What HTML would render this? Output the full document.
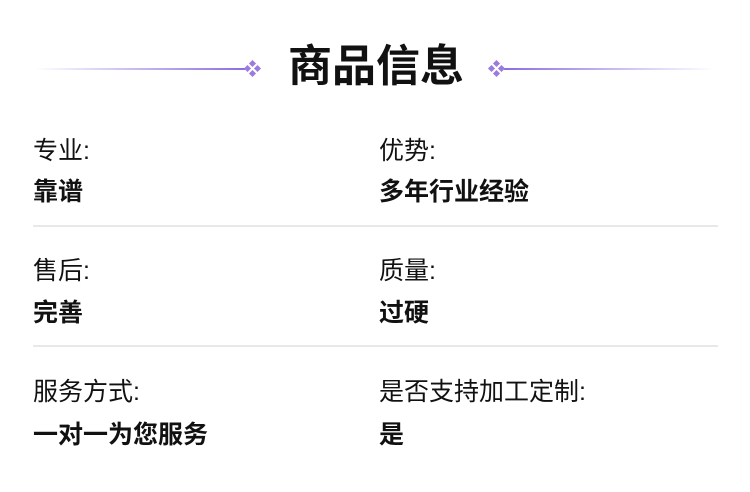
<!DOCTYPE html>
<html><head><meta charset="utf-8"><style>
html,body{margin:0;padding:0;background:#fff;width:750px;height:492px;overflow:hidden;position:relative;font-family:"Liberation Sans","Noto Sans CJK SC",sans-serif;color:#111;}
.t{position:absolute;white-space:nowrap;line-height:1;}
.title{font-size:44px;font-weight:bold;left:288px;top:45px;letter-spacing:0px;}
.lab{font-size:25px;}
.val{font-size:25px;font-weight:bold;}
.hr{position:absolute;left:33px;width:685px;height:2px;background:#e8e8e8;}
.line{position:absolute;top:68px;height:2px;}
.dm{position:absolute;width:16px;height:16px;top:61px;}
.dm i{position:absolute;width:5px;height:5px;background:#9b7be0;transform:rotate(45deg);}
</style></head><body>
<div class="line" style="left:35px;width:210px;background:linear-gradient(to right,rgba(140,110,230,0),#8a6ee0);"></div>
<div class="line" style="left:504px;width:210px;background:linear-gradient(to left,rgba(140,110,230,0),#8a6ee0);"></div>
<div class="dm" style="left:245px"><i style="left:5px;top:0"></i><i style="left:0;top:5px"></i><i style="left:10px;top:5px"></i><i style="left:5px;top:10px"></i></div>
<div class="dm" style="left:489px"><i style="left:5px;top:0"></i><i style="left:0;top:5px"></i><i style="left:10px;top:5px"></i><i style="left:5px;top:10px"></i></div>
<div class="t title">商品信息</div>

<div class="t lab" style="left:33px;top:139px">专业:</div>
<div class="t val" style="left:33px;top:180px">靠谱</div>
<div class="t lab" style="left:379px;top:139px">优势:</div>
<div class="t val" style="left:379px;top:180px">多年行业经验</div>
<div class="hr" style="top:225px"></div>

<div class="t lab" style="left:33px;top:259px">售后:</div>
<div class="t val" style="left:33px;top:301px">完善</div>
<div class="t lab" style="left:379px;top:259px">质量:</div>
<div class="t val" style="left:379px;top:301px">过硬</div>
<div class="hr" style="top:345px"></div>

<div class="t lab" style="left:33px;top:380px">服务方式:</div>
<div class="t val" style="left:33px;top:423px">一对一为您服务</div>
<div class="t lab" style="left:379px;top:380px">是否支持加工定制:</div>
<div class="t val" style="left:379px;top:423px">是</div>
</body></html>
